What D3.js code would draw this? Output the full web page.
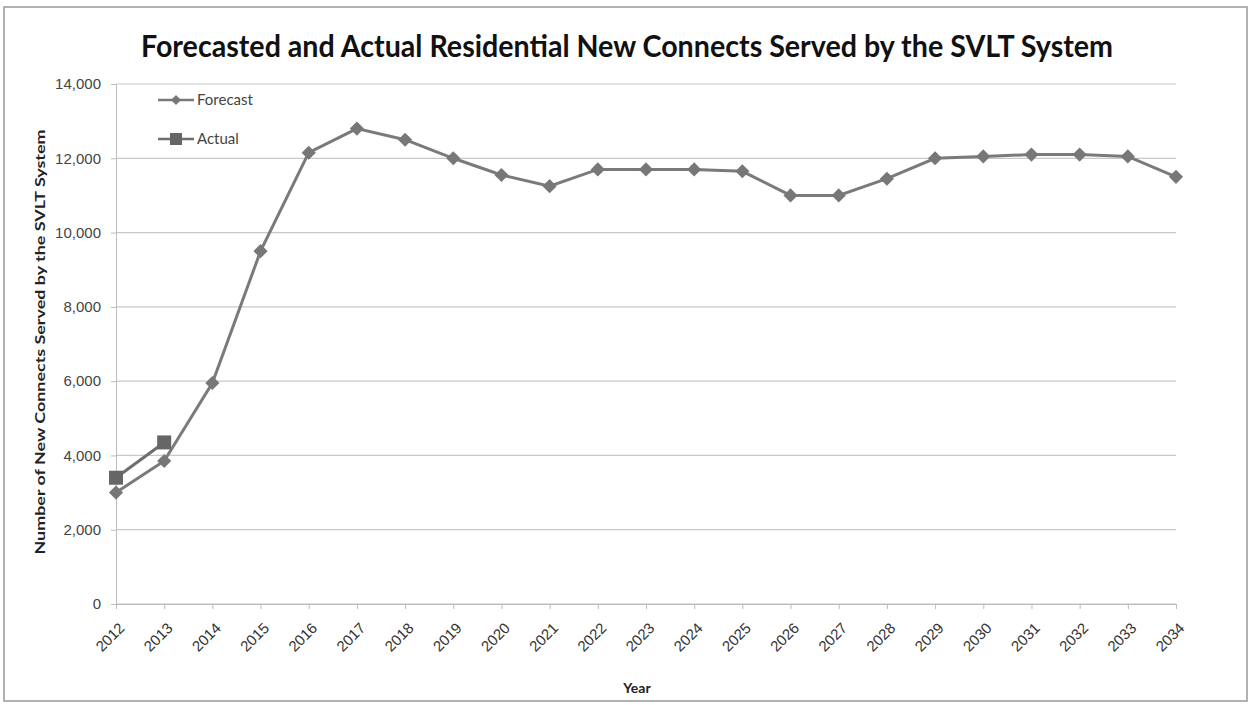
<!DOCTYPE html>
<html>
<head>
<meta charset="UTF-8">
<script src="https://d3js.org/d3.v7.min.js"></script>
<style>
    body { margin: 0; background: #fff; }
    svg { font-family: Lato, "Open Sans", sans-serif; }
</style>
</head>
<body>
<div id="viz"></div>
<script>
    // chart data
    const years = d3.range(2012, 2035).map(String);
    const forecast = [3000, 3850, 5950, 9500, 12150, 12800, 12500, 12000, 11550, 11250,
        11700, 11700, 11700, 11650, 11000, 11000, 11450, 12000, 12050, 12100, 12100, 12050, 11500];
    const actual = [3400, 4350];
    const yTicks = [0, 2000, 4000, 6000, 8000, 10000, 12000, 14000];

    const width = 1251, height = 705;
    const margin = { top: 84, right: 75, bottom: 101, left: 116 };

    const svg = d3.select('#viz').append('svg')
        .attr('width', width)
        .attr('height', height);

    // outer frame
    svg.append('rect')
        .attr('x', 4).attr('y', 7)
        .attr('width', 1243).attr('height', 694)
        .attr('fill', 'none')
        .attr('stroke', '#999')
        .attr('stroke-width', 1.5);

    const x = d3.scalePoint()
        .domain(years)
        .range([margin.left, width - margin.right]);

    const y = d3.scaleLinear()
        .domain([0, 14000])
        .range([height - margin.bottom, margin.top]);

    // gridlines
    svg.append('g')
        .selectAll('line')
        .data(yTicks)
        .join('line')
        .attr('x1', margin.left)
        .attr('x2', width - margin.right)
        .attr('y1', d => y(d))
        .attr('y2', d => y(d))
        .attr('stroke', '#c8c8c8')
        .attr('stroke-width', 1.2);

    // y axis
    const yAxis = svg.append('g')
        .attr('transform', `translate(${margin.left},0)`)
        .call(d3.axisLeft(y).tickValues(yTicks).tickFormat(d3.format(',')).tickSize(5).tickPadding(10));
    yAxis.select('.domain').attr('stroke', '#bbb');
    yAxis.selectAll('.tick line').attr('stroke', '#bbb');
    yAxis.selectAll('text')
        .attr('fill', '#444')
        .style('font-size', '15px');

    // x axis
    const xAxis = svg.append('g')
        .attr('transform', `translate(0,${y(0)})`)
        .call(d3.axisBottom(x).tickSize(5));
    xAxis.select('.domain').attr('stroke', '#bbb');
    xAxis.selectAll('.tick line').attr('stroke', '#bbb');
    xAxis.selectAll('text')
        .attr('fill', '#333')
        .style('font-size', '15px')
        .attr('text-anchor', 'end')
        .attr('dy', null)
        .attr('y', 0)
        .attr('transform', 'translate(9,25) rotate(-45)');

    // lines
    const line = d3.line()
        .x((d, i) => x(years[i]))
        .y(d => y(d));

    svg.append('path')
        .datum(forecast)
        .attr('fill', 'none')
        .attr('stroke', '#7a7a7a')
        .attr('stroke-width', 3)
        .attr('d', line);

    svg.append('path')
        .datum(actual)
        .attr('fill', 'none')
        .attr('stroke', '#6e6e6e')
        .attr('stroke-width', 3)
        .attr('d', line);

    // markers
    const diamond = d3.symbol().type(d3.symbolSquare).size(100);
    svg.append('g')
        .selectAll('path')
        .data(forecast)
        .join('path')
        .attr('d', diamond)
        .attr('transform', (d, i) => `translate(${x(years[i])},${y(d)}) rotate(45)`)
        .attr('fill', '#777');

    svg.append('g')
        .selectAll('rect')
        .data(actual)
        .join('rect')
        .attr('x', (d, i) => x(years[i]) - 7)
        .attr('y', d => y(d) - 7)
        .attr('width', 14)
        .attr('height', 14)
        .attr('fill', '#666');

    // legend
    const legend = svg.append('g');
    legend.append('line')
        .attr('x1', 158).attr('x2', 194).attr('y1', 100).attr('y2', 100)
        .attr('stroke', '#7a7a7a').attr('stroke-width', 2.5);
    legend.append('path')
        .attr('d', d3.symbol().type(d3.symbolSquare).size(50))
        .attr('transform', 'translate(176,100) rotate(45)')
        .attr('fill', '#777');
    legend.append('text')
        .attr('x', 197).attr('y', 105)
        .attr('fill', '#444')
        .style('font-size', '15px')
        .text('Forecast');
    legend.append('line')
        .attr('x1', 158).attr('x2', 194).attr('y1', 139).attr('y2', 139)
        .attr('stroke', '#6e6e6e').attr('stroke-width', 2.5);
    legend.append('rect')
        .attr('x', 170).attr('y', 133).attr('width', 12).attr('height', 12)
        .attr('fill', '#666');
    legend.append('text')
        .attr('x', 197).attr('y', 144)
        .attr('fill', '#444')
        .style('font-size', '15px')
        .text('Actual');

    // titles
    svg.append('text')
        .attr('x', 627).attr('y', 57)
        .attr('text-anchor', 'middle')
        .attr('textLength', 972)
        .attr('lengthAdjust', 'spacingAndGlyphs')
        .style('font-size', '30px')
        .style('font-weight', 'bold')
        .attr('fill', '#111')
        .text('Forecasted and Actual Residential New Connects Served by the SVLT System');

    svg.append('text')
        .attr('transform', 'translate(45,342) rotate(-90)')
        .attr('text-anchor', 'middle')
        .attr('textLength', 425)
        .attr('lengthAdjust', 'spacingAndGlyphs')
        .style('font-size', '14px')
        .style('font-weight', 'bold')
        .attr('fill', '#222')
        .text('Number of New Connects Served by the SVLT System');

    svg.append('text')
        .attr('x', 637).attr('y', 693)
        .attr('text-anchor', 'middle')
        .style('font-size', '14px')
        .style('font-weight', 'bold')
        .attr('fill', '#222')
        .text('Year');
</script>
</body>
</html>
